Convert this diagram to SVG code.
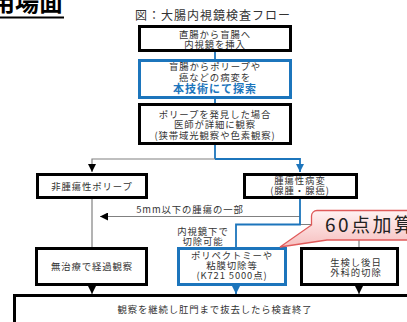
<svg xmlns="http://www.w3.org/2000/svg" width="407" height="322" viewBox="0 0 407 322">
<defs>
<style>
.t{font-family:"Noto Sans CJK JP","Liberation Sans",sans-serif;font-size:9.4px;letter-spacing:0.9px;fill:#333;text-anchor:middle}
.bx{fill:#fff;stroke:#000;stroke-width:3}
.bb{fill:#fff;stroke:#1c75bc;stroke-width:3}
.g{fill:none;stroke:#808080;stroke-width:1.2}
.b{fill:none;stroke:#1c75bc;stroke-width:1.8}
</style>
<marker id="ak" viewBox="0 0 10 10" refX="10" refY="5" markerWidth="8" markerHeight="8" markerUnits="userSpaceOnUse" orient="auto"><path d="M0,0L10,5L0,10z" fill="#000"/></marker>
<marker id="ab" viewBox="0 0 10 10" refX="10" refY="5" markerWidth="8" markerHeight="8" markerUnits="userSpaceOnUse" orient="auto"><path d="M0,0L10,5L0,10z" fill="#1c75bc"/></marker>
<linearGradient id="pg" x1="0" y1="0" x2="0" y2="1"><stop offset="0" stop-color="#fff2f2"/><stop offset="1" stop-color="#f6bfbf"/></linearGradient>
</defs>
<rect width="407" height="322" fill="#fff"/>
<text x="63" y="11" font-family="'Noto Sans CJK JP',sans-serif" font-size="24" font-weight="bold" fill="#000" text-anchor="end">活用場面</text>
<line x1="0" y1="17.5" x2="64" y2="17.5" stroke="#000" stroke-width="2"/>
<text class="t" x="213" y="20" style="font-size:12px;letter-spacing:1px">図：大腸内視鏡検査フロー</text>
<g id="connectors">
<path class="b" d="M215,51V60"/>
<path class="b" d="M215,98V104"/>
<path class="b" d="M215,144V159"/>
<path class="g" d="M215,159H92V172" marker-end="url(#ak)"/>
<path class="b" d="M215,159H300V172" marker-end="url(#ab)"/>
<path class="g" d="M92,198V248"/>
<path class="g" d="M300,216.5H100" marker-end="url(#ak)"/>
<path class="g" d="M300,224.5H359V248"/>
<path class="b" d="M300,198V224.5H236V248"/>
<path class="g" d="M92,285V294" marker-end="url(#ak)"/>
<path class="b" d="M236,285V294" marker-end="url(#ab)"/>
<path class="g" d="M359,285V294" marker-end="url(#ak)"/>
</g>
<g id="n1"><rect class="bx" x="139.5" y="26.5" width="151" height="24"/>
<text class="t" x="215" y="37.5">直腸から盲腸へ</text><text class="t" x="215" y="47.5">内視鏡を挿入</text></g>
<g id="n2"><rect class="bb" x="139.5" y="60.5" width="151" height="37"/>
<text class="t" x="215" y="70">盲腸からポリープや</text><text class="t" x="215" y="81">癌などの病変を</text>
<text class="t" x="215" y="92.5" style="fill:#1c75bc;font-weight:bold;font-size:11px;letter-spacing:1px">本技術にて探索</text></g>
<g id="n3"><rect class="bx" x="139.5" y="104.5" width="151" height="39"/>
<text class="t" x="215" y="117.5">ポリープを発見した場合</text><text class="t" x="215" y="128">医師が詳細に観察</text><text class="t" x="215" y="138.5">(狭帯域光観察や色素観察)</text></g>
<g id="n4"><rect class="bx" x="37.5" y="174.5" width="109" height="23"/>
<text class="t" x="92" y="189.5">非腫瘍性ポリープ</text></g>
<g id="n5"><rect class="bx" x="244.5" y="174.5" width="112" height="23"/>
<text class="t" x="300" y="184">腫瘍性病変</text><text class="t" x="300" y="193.5">(腺腫・腺癌)</text></g>
<g id="l1"><text class="t" x="190" y="212.5">5mm以下の腫瘍の一部</text></g>
<g id="l2"><text class="t" x="203" y="235">内視鏡下で</text><text class="t" x="203" y="245">切除可能</text></g>
<g id="n6"><rect class="bx" x="36.5" y="248.5" width="110" height="36"/>
<text class="t" x="92" y="269.5">無治療で経過観察</text></g>
<g id="n7"><rect class="bb" x="178.5" y="248.5" width="107" height="36"/>
<text class="t" x="232" y="258.5">ポリペクトミーや</text><text class="t" x="232" y="268.5">粘膜切除等</text><text class="t" x="232" y="279">(K721 5000点)</text></g>
<g id="n8"><rect class="bx" x="301.5" y="248.5" width="96" height="36"/>
<text class="t" x="356" y="266">生検し後日</text><text class="t" x="356" y="275.5">外科的切除</text></g>
<g id="n9"><rect class="bx" x="14.5" y="295.5" width="410" height="40"/>
<text class="t" x="215" y="312.5">観察を継続し肛門まで抜去したら検査終了</text></g>
<g id="callout"><path d="M317,210.5H430V240H327L280,247L311.5,225V216A5.5,5.5 0 0 1 317,210.5Z" fill="url(#pg)" stroke="#e05a5a" stroke-width="1.3"/>
<text x="325" y="231.5" font-family="'Noto Sans CJK JP','Liberation Sans',sans-serif" font-size="19" letter-spacing="2.5" fill="#222">60点加算</text></g>
</svg>
